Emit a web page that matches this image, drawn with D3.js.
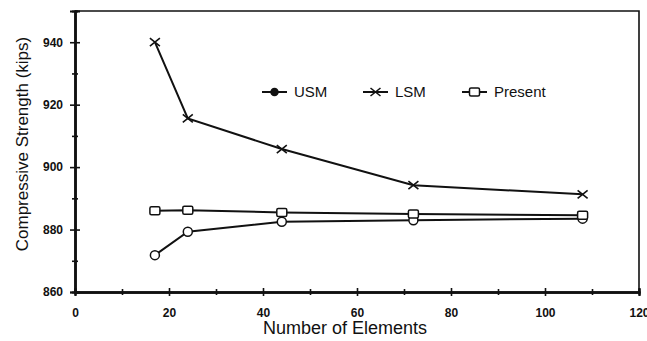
<!DOCTYPE html>
<html>
<head>
<meta charset="utf-8">
<script src="https://cdn.jsdelivr.net/npm/d3@7"></script>
<style>
body { margin: 0; background: #fff; }
text { font-family: "Liberation Sans", Arial, sans-serif; fill: #111; }
</style>
</head>
<body>
<div id="chart"></div>
<script>
//data
var elements = [17, 24, 44, 72, 108];
var usm = [871.8, 879.3, 882.5, 883.0, 883.5];
var lsm = [940.0, 915.6, 905.8, 894.2, 891.3];
var present = [886.0, 886.2, 885.5, 885.0, 884.6];
var xMajor = [0, 20, 40, 60, 80, 100, 120];
var xMinor = [10, 30, 50, 70, 90, 110];
var yMajor = [860, 880, 900, 920, 940];
var yMinor = [870, 890, 910, 930];

var W = 647, H = 341;
var margin = {top: 11, right: 8, bottom: 49, left: 75};

var svg = d3.select("#chart")
  .append("svg")
  .attr("width", W)
  .attr("height", H);

var x = d3.scaleLinear().domain([0, 120]).range([margin.left, W - margin.right]);
var y = d3.scaleLinear().domain([860, 950]).range([H - margin.bottom, margin.top]);

//frame (top and right)
svg.append("path")
  .attr("d", "M" + x(0) + "," + y(950) + "H" + x(120) + "V" + y(860))
  .attr("fill", "none")
  .attr("stroke", "#111")
  .attr("stroke-width", 1.6);

//x axis: labels + outward ticks, then inward ticks
var gx = svg.append("g").attr("transform", "translate(0," + y(860) + ")");
gx.call(d3.axisBottom(x).tickValues(xMajor).tickSize(4).tickPadding(12).tickFormat(d3.format("d")));
gx.append("g").call(d3.axisTop(x).tickValues(xMajor).tickSize(4).tickFormat(""));
gx.append("g").call(d3.axisBottom(x).tickValues(xMinor).tickSize(3).tickFormat(""));
gx.append("g").call(d3.axisTop(x).tickValues(xMinor).tickSize(3).tickFormat(""));

//y axis
var gy = svg.append("g").attr("transform", "translate(" + x(0) + ",0)");
gy.call(d3.axisLeft(y).tickValues(yMajor).tickSize(5).tickPadding(7).tickFormat(d3.format("d")));
gy.append("g").call(d3.axisRight(y).tickValues(yMajor).tickSize(5).tickFormat(""));
gy.append("g").call(d3.axisLeft(y).tickValues(yMinor).tickSize(3).tickFormat(""));
gy.append("g").call(d3.axisRight(y).tickValues(yMinor).tickSize(3).tickFormat(""));

svg.selectAll(".domain").attr("stroke", "#111").attr("stroke-width", 2);
svg.selectAll(".tick line").attr("stroke", "#111").attr("stroke-width", 1.6);
svg.selectAll(".tick text")
  .style("font-size", "12px")
  .style("font-weight", "bold")
  .style("font-family", "Liberation Sans, Arial, sans-serif")
  .attr("fill", "#111");

//axis titles
svg.append("text")
  .attr("x", (x(0) + x(120)) / 2 - 12)
  .attr("y", 334)
  .attr("text-anchor", "middle")
  .style("font-size", "18px")
  .text("Number of Elements");

svg.append("text")
  .attr("transform", "translate(28," + 144 + ") rotate(-90)")
  .attr("text-anchor", "middle")
  .style("font-size", "17px")
  .text("Compressive Strength (kips)");

//lines
var line = d3.line()
  .x(function(d, i) { return x(elements[i]); })
  .y(function(d) { return y(d); });

var series = [
  {name: "USM", values: usm, mark: "circle"},
  {name: "LSM", values: lsm, mark: "cross"},
  {name: "Present", values: present, mark: "square"}
];

series.forEach(function(s) {
  svg.append("path")
    .datum(s.values)
    .attr("d", line)
    .attr("fill", "none")
    .attr("stroke", "#111")
    .attr("stroke-width", 2);
});

function drawMark(g, kind, cx, cy, filled) {
  if (kind == "circle") {
    g.append("circle")
      .attr("cx", cx).attr("cy", cy).attr("r", filled ? 3.5 : 4.5)
      .attr("fill", filled ? "#111" : "#fff")
      .attr("stroke", "#111").attr("stroke-width", 1.5);
  } else if (kind == "square") {
    g.append("rect")
      .attr("x", cx - 5).attr("y", cy - 4).attr("width", 10).attr("height", 8)
      .attr("rx", 1.5)
      .attr("fill", "#fff")
      .attr("stroke", "#111").attr("stroke-width", 1.5);
  } else {
    g.append("path")
      .attr("d", "M" + (cx - 5) + "," + (cy - 4) + "L" + (cx + 5) + "," + (cy + 4) +
                 "M" + (cx - 5) + "," + (cy + 4) + "L" + (cx + 5) + "," + (cy - 4))
      .attr("stroke", "#111").attr("stroke-width", 1.6);
  }
}

var marks = svg.append("g");
series.forEach(function(s) {
  s.values.forEach(function(v, i) {
    drawMark(marks, s.mark, x(elements[i]), y(v), false);
  });
});

//legend
var legendX = [262, 363, 462];
var legendY = 92;
series.forEach(function(s, i) {
  var g = svg.append("g");
  g.append("line")
    .attr("x1", legendX[i]).attr("x2", legendX[i] + 25)
    .attr("y1", legendY).attr("y2", legendY)
    .attr("stroke", "#111").attr("stroke-width", 2);
  drawMark(g, s.mark, legendX[i] + 12.5, legendY, s.mark == "circle");
  g.append("text")
    .attr("x", legendX[i] + 32)
    .attr("y", legendY + 5)
    .style("font-size", "15px")
    .text(s.name);
});
</script>
</body>
</html>
